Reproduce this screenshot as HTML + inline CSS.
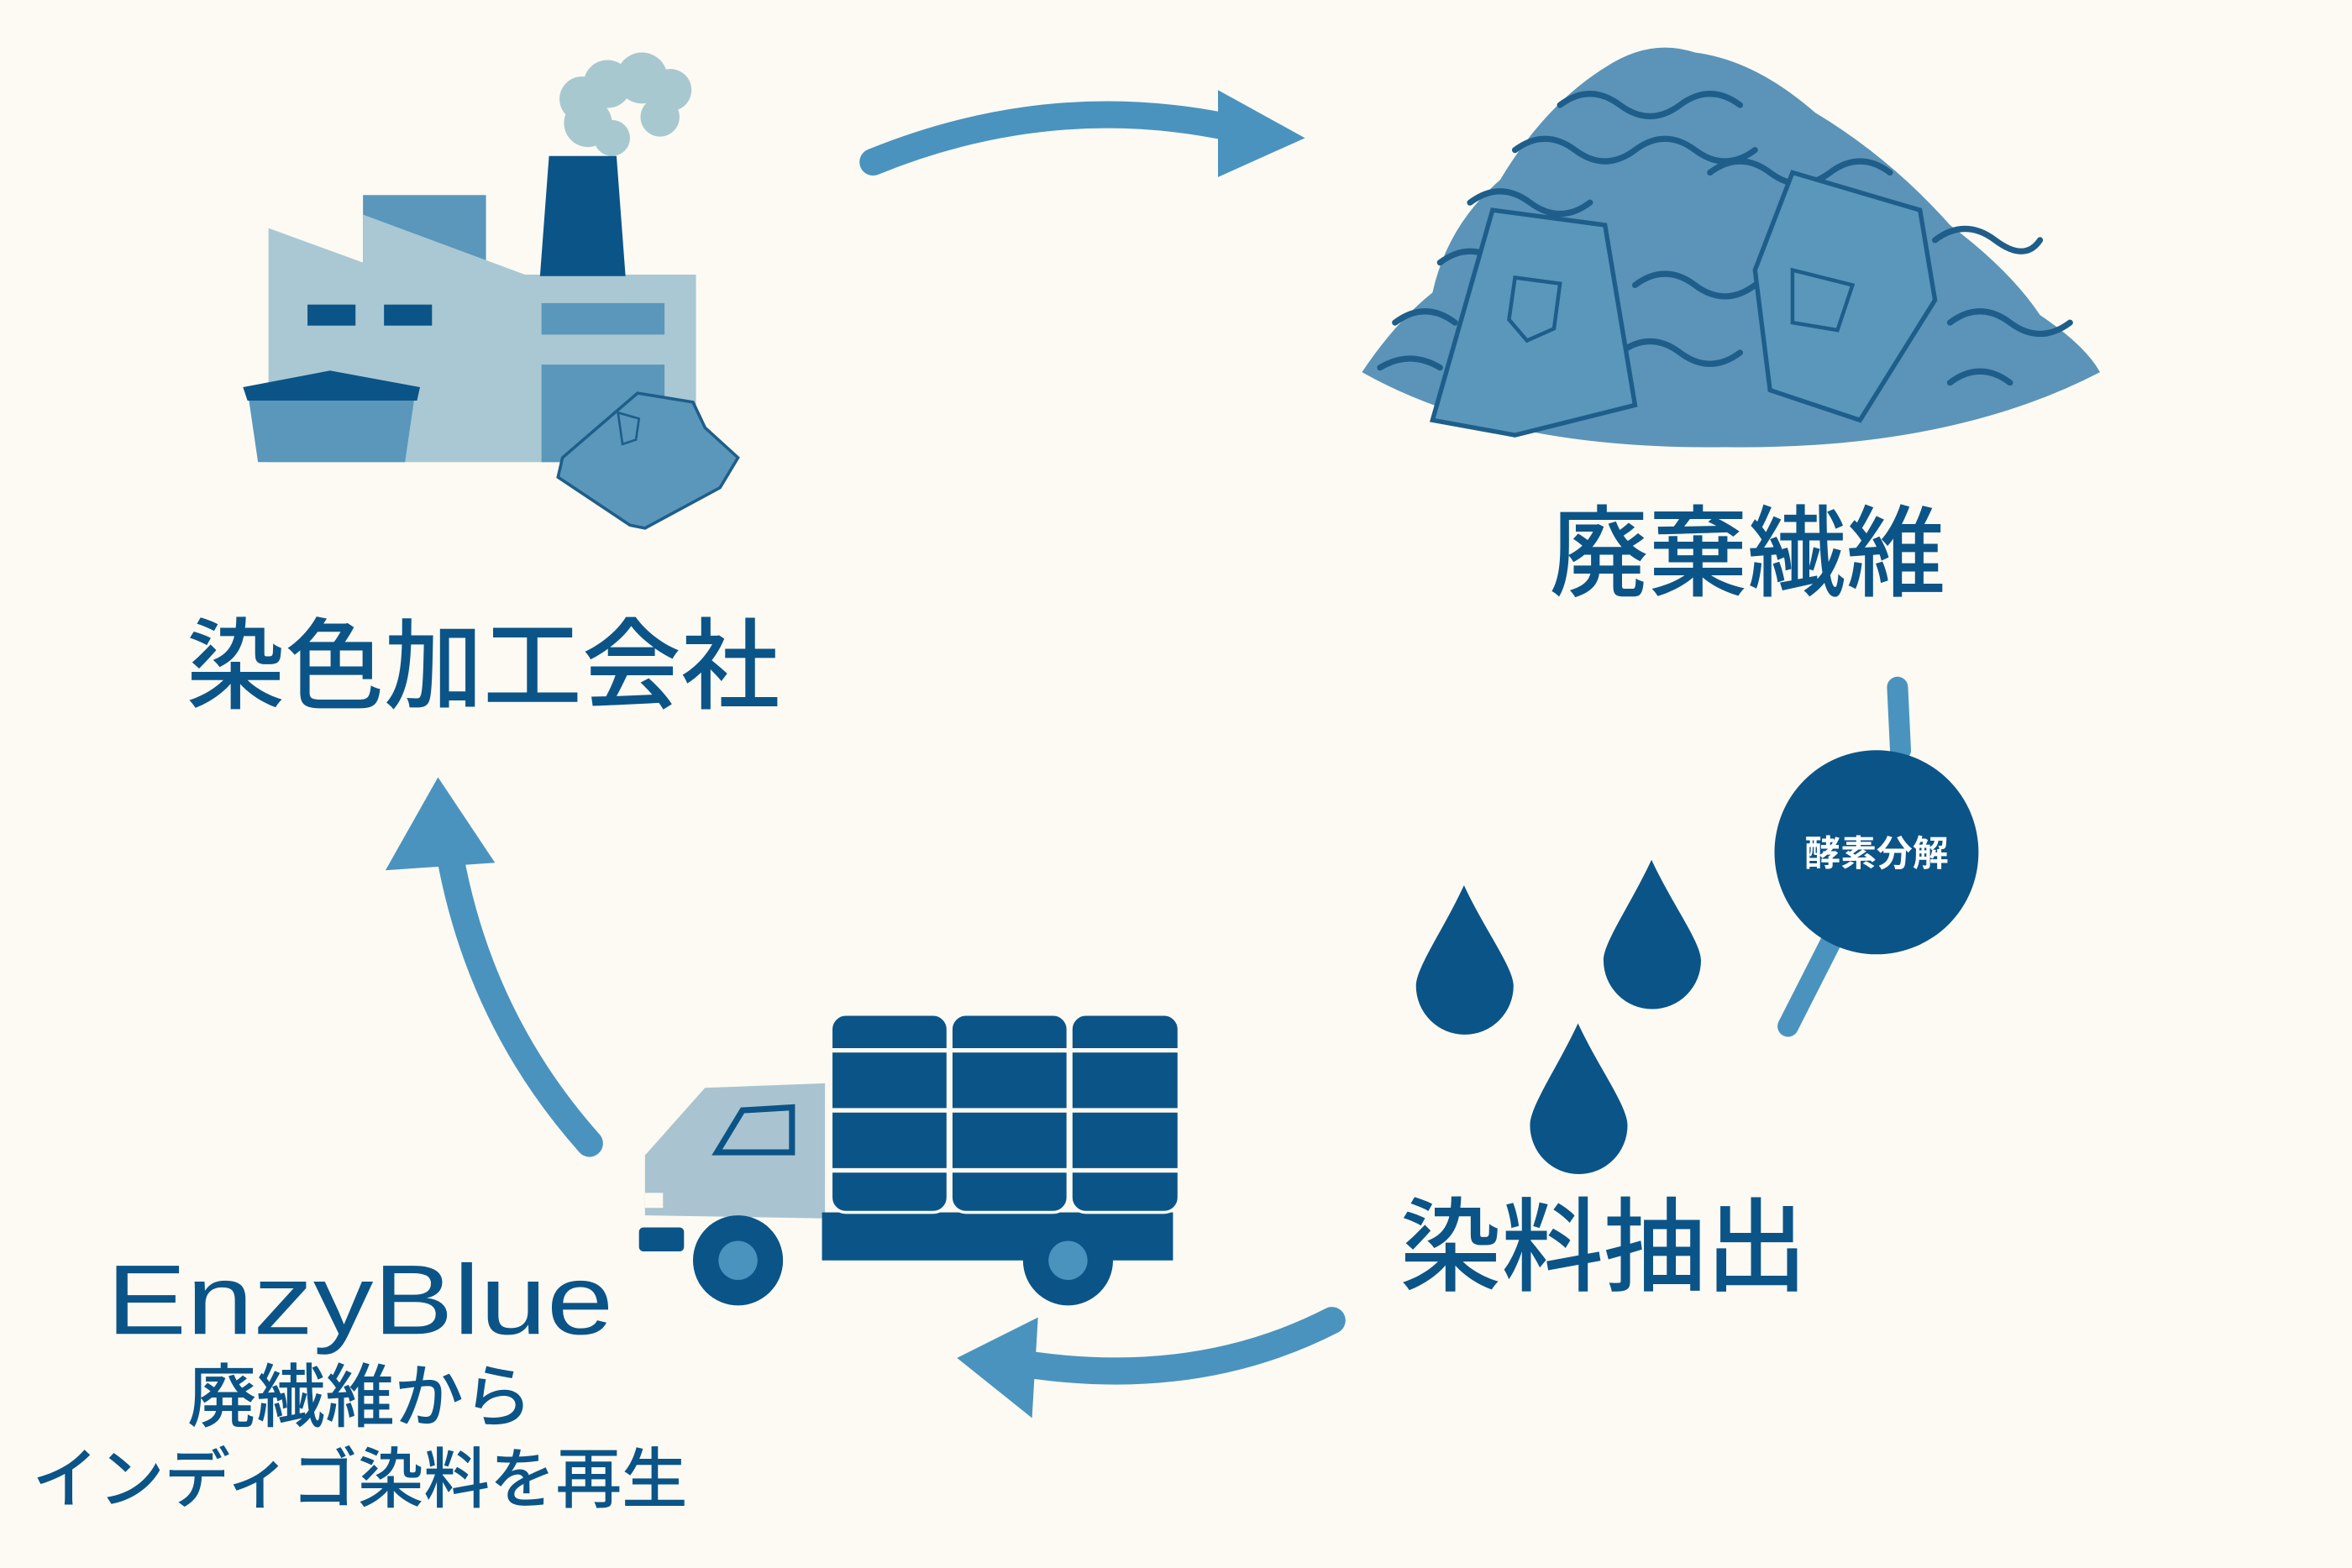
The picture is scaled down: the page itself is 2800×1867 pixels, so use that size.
<!DOCTYPE html>
<html><head><meta charset="utf-8"><style>
html,body{margin:0;padding:0;background:#fcfaf2;}
svg{display:block;}
text{font-family:"Liberation Sans","Noto Sans CJK JP",sans-serif;}
</style></head><body>
<svg width="2800" height="1867" viewBox="0 0 1568 1045" preserveAspectRatio="none" xmlns="http://www.w3.org/2000/svg">
<rect width="1568" height="1045" fill="#fcfaf2"/>
<!-- Factory -->
<g>
<circle cx="392" cy="82" r="16" fill="#a8c8d0"/>
<circle cx="388" cy="66" r="15" fill="#a8c8d0"/>
<circle cx="405" cy="56" r="16" fill="#a8c8d0"/>
<circle cx="428" cy="52" r="17" fill="#a8c8d0"/>
<circle cx="447" cy="60" r="14" fill="#a8c8d0"/>
<circle cx="440" cy="78" r="13" fill="#a8c8d0"/>
<circle cx="408" cy="92" r="12" fill="#a8c8d0"/>
<rect x="242" y="130" width="82" height="50" fill="#5a97bb"/>
<polygon points="179,152 242,175 242,143 350,183 357,183 464,183 464,308 179,308" fill="#a9c8d3"/>
<polygon points="366,104 411,104 417,184 360,184" fill="#0b5488"/>
<rect x="205" y="203" width="32" height="14" fill="#0b5488"/>
<rect x="256" y="203" width="32" height="14" fill="#0b5488"/>
<rect x="361" y="202" width="82" height="21" fill="#5a97bb"/>
<rect x="361" y="243" width="82" height="65" fill="#5a97bb"/>
<polygon points="166,267 276,267 270,308 172,308" fill="#5a97bb"/>
<polygon points="162,258 220,247 280,258 278,267 165,267" fill="#0b5488"/>
<path d="M425,262 L462,268 L470,285 L492,305 L480,325 L430,352 L420,350 L372,318 L375,305 Z" fill="#5a97bb" stroke="#1f5e8a" stroke-width="2"/>
<path d="M412,275 l14,4 -2,14 -9,3 z" fill="none" stroke="#1f5e8a" stroke-width="1.5"/>
</g>
<text x="322" y="467" font-size="66" font-weight="500" fill="#0b5488" text-anchor="middle">染色加工会社</text>
<!-- Top arrow -->
<path d="M582,108 Q700,60 820,85" fill="none" stroke="#4a93bf" stroke-width="18" stroke-linecap="round"/>
<polygon points="812,60 870,92 812,118" fill="#4a93bf"/>
<!-- Waste pile -->
<g>
<path d="M908,248 Q930,215 955,195 Q965,150 1000,120 Q1030,70 1070,45 Q1100,25 1130,35 Q1170,40 1210,75 Q1260,105 1300,150 Q1340,180 1360,210 Q1390,230 1400,248 Q1300,300 1150,298 Q1000,300 908,248 Z" fill="#5b94b8"/>
<g fill="none" stroke="#1f5e8a" stroke-width="4" stroke-linecap="round">
<path d="M1040,70 q20,-15 40,0 t40,0 t40,0"/>
<path d="M1010,100 q20,-15 40,0 t40,0 t40,0 t40,0"/>
<path d="M980,135 q20,-15 40,0 t40,0"/>
<path d="M1140,115 q20,-15 40,0 t40,0 t40,0"/>
<path d="M960,175 q20,-15 40,0"/>
<path d="M1290,160 q20,-15 40,0 t30,0"/>
<path d="M930,215 q20,-15 40,0"/>
<path d="M1090,190 q20,-15 40,0 t40,0"/>
<path d="M1080,235 q20,-15 40,0 t40,0"/>
<path d="M1300,215 q20,-15 40,0 t40,0"/>
<path d="M1300,255 q20,-15 40,0"/>
<path d="M920,245 q20,-12 40,0"/>
</g>
<path d="M995,140 L1070,150 L1090,270 L1010,290 L955,280 Z" fill="#5a97bb" stroke="#1f5e8a" stroke-width="3"/>
<path d="M1010,185 l30,4 -4,30 -18,8 -12,-14 z" fill="none" stroke="#1f5e8a" stroke-width="2.5"/>
<path d="M1195,115 L1280,140 L1290,200 L1240,280 L1180,260 L1170,180 Z" fill="#5a97bb" stroke="#1f5e8a" stroke-width="3"/>
<path d="M1195,180 l40,10 -10,30 -30,-5 z" fill="none" stroke="#1f5e8a" stroke-width="2.5"/>
</g>
<text x="1165" y="392" font-size="66" font-weight="500" fill="#0b5488" text-anchor="middle">廃棄繊維</text>
<!-- Enzyme connector -->
<line x1="1265" y1="458" x2="1267" y2="500" stroke="#4a93bf" stroke-width="14" stroke-linecap="round"/>
<line x1="1222" y1="625" x2="1192" y2="684" stroke="#4a93bf" stroke-width="14" stroke-linecap="round"/>
<circle cx="1251" cy="568" r="68" fill="#0b5488"/>
<text x="1251" y="577" font-size="24" font-weight="700" fill="#ffffff" text-anchor="middle">酵素分解</text>
<!-- Drops -->
<path d="M976,590 C990,620 1009,645 1009,657 A32,32 0 0 1 944,657 C944,645 962,620 976,590 Z" fill="#0b5488"/>
<path d="M1101,573 C1115,603 1134,628 1134,640 A32,32 0 0 1 1069,640 C1069,628 1087,603 1101,573 Z" fill="#0b5488"/>
<path d="M1052,682 C1066,712 1085,737 1085,750 A32,32 0 0 1 1020,750 C1020,737 1038,712 1052,682 Z" fill="#0b5488"/>
<text x="1069" y="855" font-size="68" font-weight="500" fill="#0b5488" text-anchor="middle">染料抽出</text>
<!-- Bottom arrow -->
<path d="M888,880 Q800,925 690,910" fill="none" stroke="#4a93bf" stroke-width="18" stroke-linecap="round"/>
<polygon points="692,878 638,905 688,945" fill="#4a93bf"/>
<!-- Left arrow -->
<path d="M393,762 Q320,680 300,570" fill="none" stroke="#4a93bf" stroke-width="18" stroke-linecap="round"/>
<polygon points="257,580 292,518 330,575" fill="#4a93bf"/>
<!-- Truck -->
<g>
<path d="M430,810 L430,770 L470,725 L550,722 L550,812 Z" fill="#a9c4d0"/>
<path d="M478,768 L495,740 L528,738 L528,768 Z" fill="none" stroke="#0b5488" stroke-width="4"/>
<rect x="430" y="795" width="12" height="10" fill="#fcfaf2"/>
<rect x="426" y="818" width="30" height="16" rx="3" fill="#0b5488"/>
<rect x="548" y="808" width="234" height="32" fill="#0b5488"/>
<g fill="#0b5488" stroke="#fcfaf2" stroke-width="2">
<rect x="554" y="676" width="78" height="132" rx="10"/>
<rect x="634" y="676" width="78" height="132" rx="10"/>
<rect x="714" y="676" width="72" height="132" rx="10"/>
</g>
<g stroke="#fcfaf2" stroke-width="3">
<line x1="554" y1="700" x2="786" y2="700"/>
<line x1="554" y1="740" x2="786" y2="740"/>
<line x1="554" y1="780" x2="786" y2="780"/>
</g>
<circle cx="492" cy="840" r="30" fill="#0b5488"/>
<circle cx="492" cy="840" r="13" fill="#4a93bf"/>
<circle cx="712" cy="840" r="30" fill="#0b5488"/>
<circle cx="712" cy="840" r="13" fill="#4a93bf"/>
</g>
<!-- EnzyBlue text -->
<text x="240" y="889" font-size="66" font-weight="500" fill="#0b5488" text-anchor="middle" textLength="338" lengthAdjust="spacingAndGlyphs">EnzyBlue</text>
<text x="240" y="947" font-size="46" font-weight="500" fill="#0b5488" text-anchor="middle">廃繊維から</text>
<text x="240" y="1001" font-size="44" font-weight="500" fill="#0b5488" text-anchor="middle">インディゴ染料を再生</text>
</svg>
</body></html>
